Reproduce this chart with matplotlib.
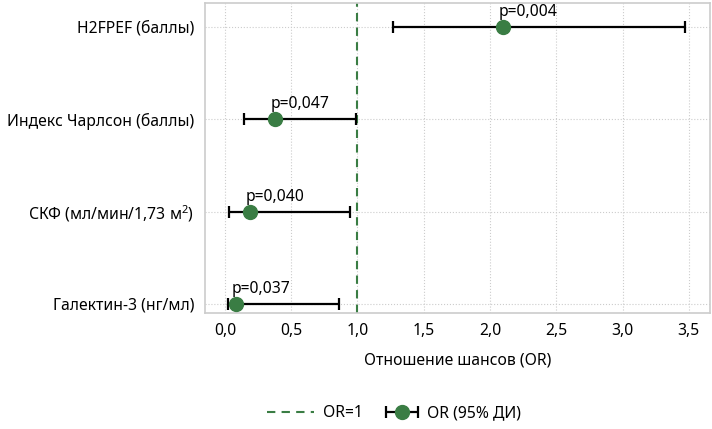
import matplotlib.pyplot as plt
from matplotlib.lines import Line2D
from matplotlib.legend_handler import HandlerErrorbar
from matplotlib.ticker import FuncFormatter

# Data
labels = ["Галектин-3 (нг/мл)", "СКФ (мл/мин/1,73 м$^2$)", "Индекс Чарлсон (баллы)", "H2FPEF (баллы)"]
odds = [0.085, 0.19, 0.38, 2.10]
ci_low = [0.02, 0.03, 0.146, 1.27]
ci_high = [0.86, 0.945, 0.99, 3.47]
p_text = ["p=0,037", "p=0,040", "p=0,047", "p=0,004"]
xticks = [0.0, 0.5, 1.0, 1.5, 2.0, 2.5, 3.0, 3.5]

green = "#3a7d44"
fs = 11.3

plt.rcParams['font.family'] = ['Noto Sans', 'DejaVu Sans']
plt.rcParams['mathtext.fontset'] = 'custom'
plt.rcParams['mathtext.rm'] = 'Noto Sans'


class ShiftedErrorbar(HandlerErrorbar):
    # move the errorbar symbol to the right part of its handle box
    def create_artists(self, legend, orig_handle, xdescent, ydescent, width, height, fontsize, trans):
        return super().create_artists(legend, orig_handle, xdescent - 6, ydescent, width, height, fontsize, trans)


fig = plt.figure(figsize=(7.12, 4.29), dpi=100)
ax = fig.add_axes([205 / 712, 1 - 313 / 429, 505 / 712, 310 / 429])

y = list(range(len(labels)))
err = [[o - l for o, l in zip(odds, ci_low)], [h - o for o, h in zip(odds, ci_high)]]

ax.axvline(1.0, color=green, ls="--", lw=1.5, dashes=(4, 3), zorder=1)
eb = ax.errorbar(odds, y, xerr=err, fmt="o", color=green, ecolor="black",
                 elinewidth=1.6, capsize=4.5, capthick=1.6, markersize=10, zorder=3)

for xi, yi, t in zip(odds, y, p_text):
    ax.annotate(t, (xi, yi), xytext=(-3, 5), textcoords="offset points",
                ha="left", va="bottom", fontsize=fs)

ax.set_yticks(y)
ax.set_yticklabels(labels, fontsize=fs)
ax.set_xticks(xticks)
ax.xaxis.set_major_formatter(FuncFormatter(lambda v, _: f"{v:.1f}".replace(".", ",")))
ax.tick_params(axis="x", labelsize=fs, length=0, pad=7)
ax.tick_params(axis="y", length=0, pad=8)
ax.set_xlim(-0.15, 3.66)
ax.set_ylim(-0.1, 3.26)
ax.set_xlabel("Отношение шансов (OR)", fontsize=fs, labelpad=10)

ax.grid(True, ls=":", color="#cccccc", lw=0.8)
ax.set_axisbelow(True)
for s in ax.spines.values():
    s.set_color("#cccccc")
    s.set_linewidth(1.2)

handles = [Line2D([0], [0], color=green, ls="--", lw=1.5, dashes=(4, 3)), eb]
fig.legend(handles, ["OR=1", "OR (95% ДИ)"], loc="center", bbox_to_anchor=(0.553, 1 - 413 / 429),
           ncol=2, frameon=False, fontsize=fs, handlelength=3, columnspacing=0.45, handletextpad=0.6,
           handler_map={type(eb): ShiftedErrorbar(xerr_size=1.0)})

fig.savefig("out.png", dpi=100)
